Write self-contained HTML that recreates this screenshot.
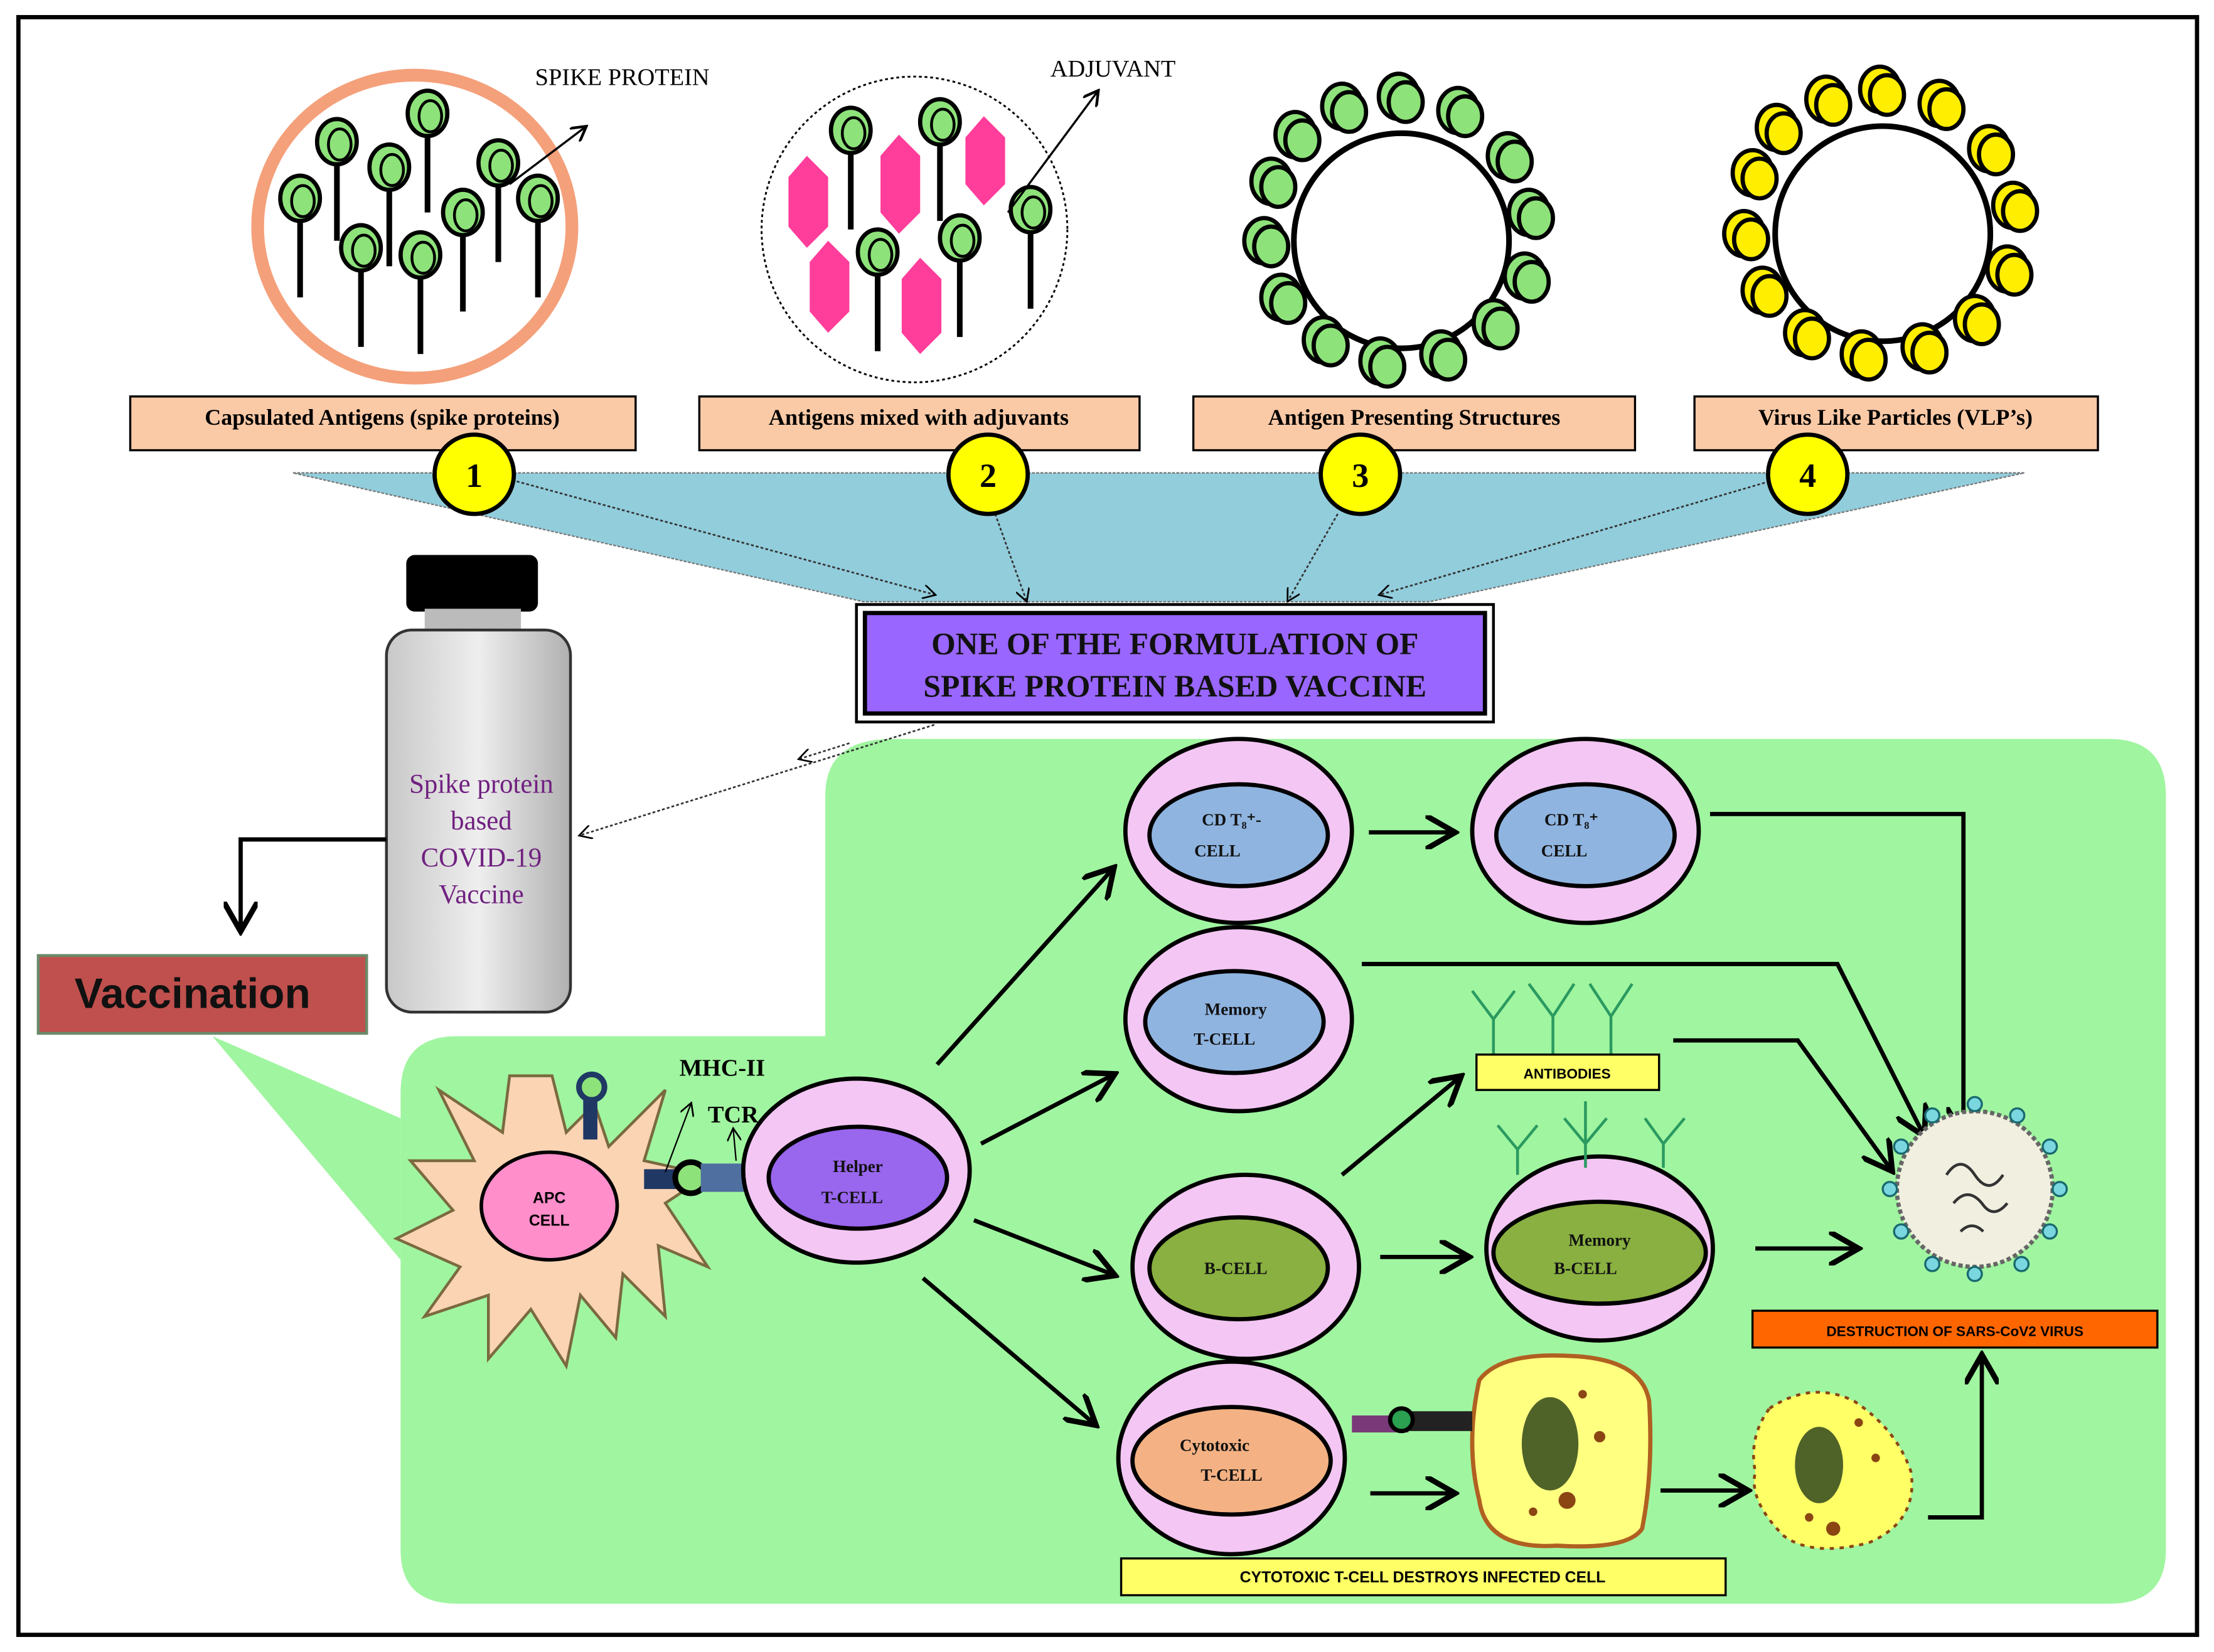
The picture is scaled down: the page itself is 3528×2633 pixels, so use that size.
<!DOCTYPE html>
<html><head><meta charset="utf-8"><style>
html,body{margin:0;padding:0;background:#fff}
svg{display:block}
text{font-family:"Liberation Serif",serif}
.s{font-family:"Liberation Sans",sans-serif;font-weight:bold}
</style></head><body>
<svg width="3528" height="2633" viewBox="0 0 1564 1167" xmlns="http://www.w3.org/2000/svg">
<defs>
<marker id="ah" markerWidth="8" markerHeight="8" refX="6" refY="4" orient="auto" markerUnits="strokeWidth"><path d="M0,0 L7,4 L0,8" fill="none" stroke="#000" stroke-width="1.3"/></marker>
<marker id="at" markerWidth="10" markerHeight="10" refX="8" refY="5" orient="auto" markerUnits="userSpaceOnUse"><path d="M0,0 L9,5 L0,10" fill="none" stroke="#000" stroke-width="1.2"/></marker>
<g id="lp"><line x1="0" y1="0" x2="0" y2="70" stroke="#000" stroke-width="4"/><ellipse cx="0" cy="0" rx="14" ry="16" fill="#8ee27a" stroke="#000" stroke-width="3"/><ellipse cx="2" cy="2" rx="8" ry="11" fill="#8ee27a" stroke="#000" stroke-width="2"/></g>
<g id="gb"><ellipse cx="0" cy="0" rx="14" ry="16" fill="#8ee27a" stroke="#000" stroke-width="3"/><ellipse cx="5" cy="4" rx="12" ry="14" fill="#8ee27a" stroke="#000" stroke-width="3"/></g>
<g id="yb"><ellipse cx="0" cy="0" rx="14" ry="16" fill="#ffee00" stroke="#000" stroke-width="3"/><ellipse cx="5" cy="4" rx="12" ry="14" fill="#ffee00" stroke="#000" stroke-width="3"/></g>
<linearGradient id="bt" x1="0" x2="1"><stop offset="0" stop-color="#c8c8c8"/><stop offset="0.5" stop-color="#eeeeee"/><stop offset="1" stop-color="#b0b0b0"/></linearGradient>
</defs>
<rect width="1564" height="1167" fill="#fff"/>
<rect x="13" y="12" width="1539" height="1143" fill="none" stroke="#000" stroke-width="3"/>

<ellipse cx="293" cy="160" rx="111" ry="107" fill="#fff" stroke="#f4a07a" stroke-width="9"/>
<use href="#lp" x="302" y="80"/><use href="#lp" x="238" y="100"/><use href="#lp" x="275" y="118"/><use href="#lp" x="352" y="115"/>
<use href="#lp" x="212" y="140"/><use href="#lp" x="380" y="140"/><use href="#lp" x="327" y="150"/><use href="#lp" x="255" y="175"/>
<use href="#lp" x="297" y="180"/>
<line x1="360" y1="130" x2="413" y2="90" stroke="#000" stroke-width="1.5" marker-end="url(#ah)"/>
<text x="378" y="60" font-size="17">SPIKE PROTEIN</text>

<circle cx="646" cy="162" r="108" fill="#fff" stroke="#000" stroke-width="1.3" stroke-dasharray="2,2"/>
<g fill="#ff3d9a">
<polygon points="570,110 585,125 585,160 570,175 557,160 557,125"/>
<polygon points="635,95 650,110 650,150 635,165 622,150 622,110"/>
<polygon points="695,82 710,97 710,130 695,145 682,130 682,97"/>
<polygon points="585,170 600,185 600,220 585,235 572,220 572,185"/>
<polygon points="650,182 665,197 665,235 650,250 637,235 637,197"/>
</g>
<use href="#lp" x="601" y="92"/><use href="#lp" x="664" y="86"/><use href="#lp" x="728" y="148"/><use href="#lp" x="620" y="178"/><use href="#lp" x="678" y="168"/>
<line x1="712" y1="150" x2="775" y2="65" stroke="#000" stroke-width="1.5" marker-end="url(#ah)"/>
<text x="742" y="54" font-size="17">ADJUVANT</text>

<circle cx="990" cy="170" r="76" fill="#fff" stroke="#000" stroke-width="4"/>
<g>
<use href="#gb" x="988" y="68"/><use href="#gb" x="1030" y="78"/><use href="#gb" x="1065" y="110"/><use href="#gb" x="1080" y="150"/><use href="#gb" x="1077" y="195"/><use href="#gb" x="1055" y="228"/><use href="#gb" x="1018" y="250"/><use href="#gb" x="975" y="255"/><use href="#gb" x="935" y="240"/><use href="#gb" x="905" y="210"/><use href="#gb" x="893" y="170"/><use href="#gb" x="898" y="128"/><use href="#gb" x="915" y="95"/><use href="#gb" x="948" y="75"/>
</g>

<circle cx="1330" cy="165" r="76" fill="#fff" stroke="#000" stroke-width="4"/>
<g>
<use href="#yb" x="1328" y="63"/><use href="#yb" x="1370" y="73"/><use href="#yb" x="1405" y="105"/><use href="#yb" x="1422" y="145"/><use href="#yb" x="1418" y="190"/><use href="#yb" x="1395" y="225"/><use href="#yb" x="1358" y="245"/><use href="#yb" x="1315" y="250"/><use href="#yb" x="1275" y="235"/><use href="#yb" x="1245" y="205"/><use href="#yb" x="1232" y="165"/><use href="#yb" x="1238" y="122"/><use href="#yb" x="1255" y="90"/><use href="#yb" x="1290" y="70"/>
</g>

<polygon points="207,334 1430,334 1010,425 610,425" fill="#92cddc" stroke="#777" stroke-width="1" stroke-dasharray="2,1"/>

<g fill="#fac9a6" stroke="#000" stroke-width="1.5">
<rect x="92" y="280" width="357" height="38"/><rect x="494" y="280" width="311" height="38"/><rect x="843" y="280" width="312" height="38"/><rect x="1197" y="280" width="285" height="38"/>
</g>
<g font-size="16" text-anchor="middle" font-weight="bold">
<text x="270" y="300">Capsulated  Antigens  (spike proteins)</text>
<text x="649" y="300">Antigens mixed  with adjuvants</text>
<text x="999" y="300">Antigen  Presenting  Structures</text>
<text x="1339" y="300">Virus  Like Particles  (VLP’s)</text>
</g>

<g stroke="#333" stroke-width="1.2" stroke-dasharray="2,1.5" fill="none" marker-end="url(#at)">
<line x1="365" y1="340" x2="660" y2="420"/>
<line x1="703" y1="363" x2="725" y2="424"/>
<line x1="945" y1="363" x2="910" y2="424"/>
<line x1="1250" y1="340" x2="975" y2="420"/>
</g>
<g fill="#ffff00" stroke="#000" stroke-width="3">
<circle cx="335" cy="335" r="28"/><circle cx="698" cy="335" r="28"/><circle cx="961" cy="335" r="28"/><circle cx="1277" cy="335" r="28"/>
</g>
<g font-size="24" text-anchor="middle" class="s">
<text x="335" y="344">1</text><text x="698" y="344">2</text><text x="961" y="344">3</text><text x="1277" y="344">4</text>
</g>

<rect x="605" y="427" width="450" height="83" fill="#fff" stroke="#000" stroke-width="2"/>
<rect x="611" y="433" width="438" height="71" fill="#9966ff" stroke="#000" stroke-width="3"/>
<g class="s" font-size="22" text-anchor="middle" fill="#111">
<text x="830" y="462">ONE OF THE FORMULATION  OF</text>
<text x="830" y="492">SPIKE PROTEIN BASED  VACCINE</text>
</g>

<path d="M630,522 H1490 Q1530,522 1530,562 V1095 Q1530,1133 1490,1133 H323 Q283,1133 283,1095 V772 Q283,732 323,732 H583 V562 Q583,522 630,522 Z" fill="#a0f5a0"/>
<polygon points="150,732 283,790 283,890" fill="#a0f5a0"/>

<line x1="660" y1="512" x2="410" y2="590" stroke="#333" stroke-width="1.2" stroke-dasharray="2,1.5" marker-end="url(#at)"/>
<line x1="600" y1="525" x2="565" y2="536" stroke="#333" stroke-width="1.2" stroke-dasharray="2,1.5" marker-end="url(#at)"/>

<rect x="287" y="392" width="93" height="40" rx="6" fill="#000"/>
<rect x="300" y="430" width="68" height="18" fill="#bbb"/>
<rect x="273" y="445" width="130" height="270" rx="18" fill="url(#bt)" stroke="#333" stroke-width="2"/>
<g font-size="19" fill="#702080" text-anchor="middle">
<text x="340" y="560">Spike protein</text><text x="340" y="586">based</text><text x="340" y="612">COVID-19</text><text x="340" y="638">Vaccine</text>
</g>
<polyline points="273,593 170,593 170,655" fill="none" stroke="#000" stroke-width="3" marker-end="url(#ah)"/>

<rect x="27" y="675" width="232" height="55" fill="#c0504d" stroke="#6a8a6a" stroke-width="2"/>
<text x="136" y="712" font-size="30" text-anchor="middle" class="s" fill="#111">Vaccination</text>

<path d="M390,760 L400,800 L420,780 L430,810 L470,770 L455,820 L500,830 L470,850 L500,895 L465,880 L470,930 L440,900 L435,945 L410,915 L400,965 L375,925 L345,960 L345,915 L300,930 L325,895 L280,875 L320,855 L290,820 L335,820 L310,770 L355,800 L360,760 Z" fill="#fbd4b4" stroke="#7a6a40" stroke-width="2"/>
<ellipse cx="388" cy="852" rx="48" ry="38" fill="#ff8ecb" stroke="#000" stroke-width="2.5"/>
<text x="388" y="850" font-size="11" text-anchor="middle" class="s">APC</text><text x="388" y="866" font-size="11" text-anchor="middle" class="s">CELL</text>
<rect x="412" y="775" width="10" height="30" fill="#1f3864"/><circle cx="418" cy="768" r="9" fill="#8ee27a" stroke="#1f3864" stroke-width="4"/>
<rect x="455" y="826" width="35" height="14" fill="#1f3864"/><circle cx="488" cy="832" r="11" fill="#8ee27a" stroke="#000" stroke-width="4"/>
<rect x="495" y="822" width="40" height="20" fill="#4f6fa0"/>
<line x1="470" y1="828" x2="488" y2="780" stroke="#000" stroke-width="1" marker-end="url(#at)"/>
<line x1="520" y1="820" x2="518" y2="798" stroke="#000" stroke-width="1" marker-end="url(#at)"/>
<text x="480" y="760" font-size="17" font-weight="bold">MHC-II</text>
<text x="500" y="793" font-size="17" font-weight="bold">TCR</text>

<g stroke="#000" stroke-width="3">
<ellipse cx="875" cy="587" rx="80" ry="65" fill="#f3c6f3"/><ellipse cx="875" cy="590" rx="63" ry="36" fill="#8fb4e0"/>
<ellipse cx="1120" cy="587" rx="80" ry="65" fill="#f3c6f3"/><ellipse cx="1120" cy="590" rx="63" ry="36" fill="#8fb4e0"/>
<ellipse cx="875" cy="720" rx="80" ry="65" fill="#f3c6f3"/><ellipse cx="872" cy="722" rx="63" ry="36" fill="#8fb4e0"/>
<ellipse cx="605" cy="827" rx="80" ry="65" fill="#f3c6f3"/><ellipse cx="606" cy="832" rx="63" ry="36" fill="#9966ee"/>
<ellipse cx="880" cy="895" rx="80" ry="65" fill="#f3c6f3"/><ellipse cx="875" cy="896" rx="63" ry="36" fill="#89b040"/>
<ellipse cx="1130" cy="882" rx="80" ry="65" fill="#f3c6f3"/><ellipse cx="1130" cy="885" rx="75" ry="36" fill="#89b040"/>
<ellipse cx="870" cy="1030" rx="80" ry="68" fill="#f3c6f3"/><ellipse cx="870" cy="1032" rx="70" ry="38" fill="#f4b183"/>
</g>
<g class="s" font-size="12" text-anchor="middle" fill="#111">
<text x="870" y="583">CD T₈⁺-</text><text x="860" y="605">CELL</text>
<text x="1110" y="583">CD T₈⁺</text><text x="1105" y="605">CELL</text>
<text x="873" y="717">Memory</text><text x="865" y="738">T-CELL</text>
<text x="606" y="828">Helper</text><text x="602" y="850">T-CELL</text>
<text x="873" y="900">B-CELL</text>
<text x="1130" y="880">Memory</text><text x="1120" y="900">B-CELL</text>
<text x="858" y="1025">Cytotoxic</text><text x="870" y="1046">T-CELL</text>
</g>

<g stroke="#2a9a60" stroke-width="2" fill="none">
<path d="M1040,700 L1055,720 L1070,700 M1055,720 V750"/><path d="M1080,695 L1097,718 L1112,695 M1097,718 V748"/><path d="M1123,695 L1138,718 L1153,695 M1138,718 V748"/>
<path d="M1058,795 L1072,812 L1086,795 M1072,812 V830"/><path d="M1105,790 L1120,808 L1135,790 M1120,808 V778 M1120,808 V825"/><path d="M1162,790 L1175,808 L1190,790 M1175,808 V825"/>
</g>
<rect x="1043" y="745" width="129" height="25" fill="#ffff66" stroke="#000" stroke-width="1.5"/>
<text x="1107" y="762" font-size="10" text-anchor="middle" class="s">ANTIBODIES</text>

<g stroke="#000" stroke-width="3" fill="none" marker-end="url(#ah)">
<line x1="662" y1="752" x2="785" y2="615"/>
<line x1="693" y1="808" x2="785" y2="760"/>
<line x1="688" y1="862" x2="785" y2="900"/>
<line x1="652" y1="903" x2="772" y2="1005"/>
<line x1="967" y1="588" x2="1025" y2="588"/>
<line x1="975" y1="888" x2="1035" y2="888"/>
<line x1="948" y1="830" x2="1030" y2="762"/>
<line x1="1240" y1="882" x2="1310" y2="882"/>
<line x1="968" y1="1055" x2="1025" y2="1055"/>
<line x1="1173" y1="1053" x2="1232" y2="1053"/>
<polyline points="1208,575 1387,575 1387,800"/>
<polyline points="962,681 1298,681 1358,800"/>
<polyline points="1182,735 1270,735 1335,825"/>
<polyline points="1362,1072 1400,1072 1400,960"/>
</g>

<g>
<circle cx="1395" cy="840" r="55" fill="#f0efe0" stroke="#666" stroke-width="3" stroke-dasharray="3,2"/>
<g fill="#7ad7e0" stroke="#1a6a70" stroke-width="1.5">
<circle cx="1395" cy="780" r="5"/><circle cx="1425" cy="788" r="5"/><circle cx="1448" cy="810" r="5"/><circle cx="1455" cy="840" r="5"/><circle cx="1448" cy="870" r="5"/><circle cx="1428" cy="893" r="5"/><circle cx="1395" cy="900" r="5"/><circle cx="1365" cy="893" r="5"/><circle cx="1343" cy="870" r="5"/><circle cx="1335" cy="840" r="5"/><circle cx="1343" cy="810" r="5"/><circle cx="1365" cy="788" r="5"/>
</g>
<path d="M1375,830 q10,-15 20,0 q10,15 20,0 M1380,850 q10,-12 20,0 q8,12 18,0 M1385,870 q8,-8 16,0" stroke="#333" stroke-width="2" fill="none"/>
</g>
<rect x="1238" y="926" width="286" height="26" fill="#ff6600" stroke="#000" stroke-width="1.5"/>
<text x="1381" y="944" font-size="10" text-anchor="middle" class="s">DESTRUCTION  OF  SARS-CoV2  VIRUS</text>

<path d="M1045,975 Q1060,955 1110,958 Q1160,960 1165,990 Q1168,1040 1160,1080 Q1150,1095 1100,1092 Q1050,1095 1045,1060 Q1035,1020 1045,975 Z" fill="#ffff80" stroke="#b06020" stroke-width="3"/>
<ellipse cx="1095" cy="1020" rx="20" ry="33" fill="#4f6228"/>
<circle cx="1118" cy="985" r="3" fill="#8b4513"/><circle cx="1130" cy="1015" r="4" fill="#8b4513"/><circle cx="1107" cy="1060" r="6" fill="#8b4513"/><circle cx="1083" cy="1068" r="3" fill="#8b4513"/>
<rect x="955" y="1000" width="40" height="12" fill="#7a3a7a"/><rect x="985" y="997" width="55" height="14" fill="#222"/><circle cx="990" cy="1003" r="8" fill="#2aa050" stroke="#000" stroke-width="3"/>
<path d="M1250,995 Q1280,975 1310,990 Q1340,1010 1350,1040 Q1355,1075 1320,1090 Q1280,1100 1260,1085 Q1235,1060 1240,1040 Q1235,1015 1250,995 Z" fill="#ffff66" stroke="#8b4513" stroke-width="2" stroke-dasharray="3,4"/>
<ellipse cx="1285" cy="1035" rx="17" ry="27" fill="#4f6228"/>
<circle cx="1313" cy="1005" r="3" fill="#8b4513"/><circle cx="1325" cy="1030" r="3" fill="#8b4513"/><circle cx="1295" cy="1080" r="5" fill="#8b4513"/><circle cx="1278" cy="1072" r="3" fill="#8b4513"/>
<rect x="792" y="1101" width="427" height="26" fill="#ffff66" stroke="#000" stroke-width="1.5"/>
<text x="1005" y="1118" font-size="11" text-anchor="middle" class="s">CYTOTOXIC T-CELL DESTROYS INFECTED CELL</text>
</svg>
</body></html>
